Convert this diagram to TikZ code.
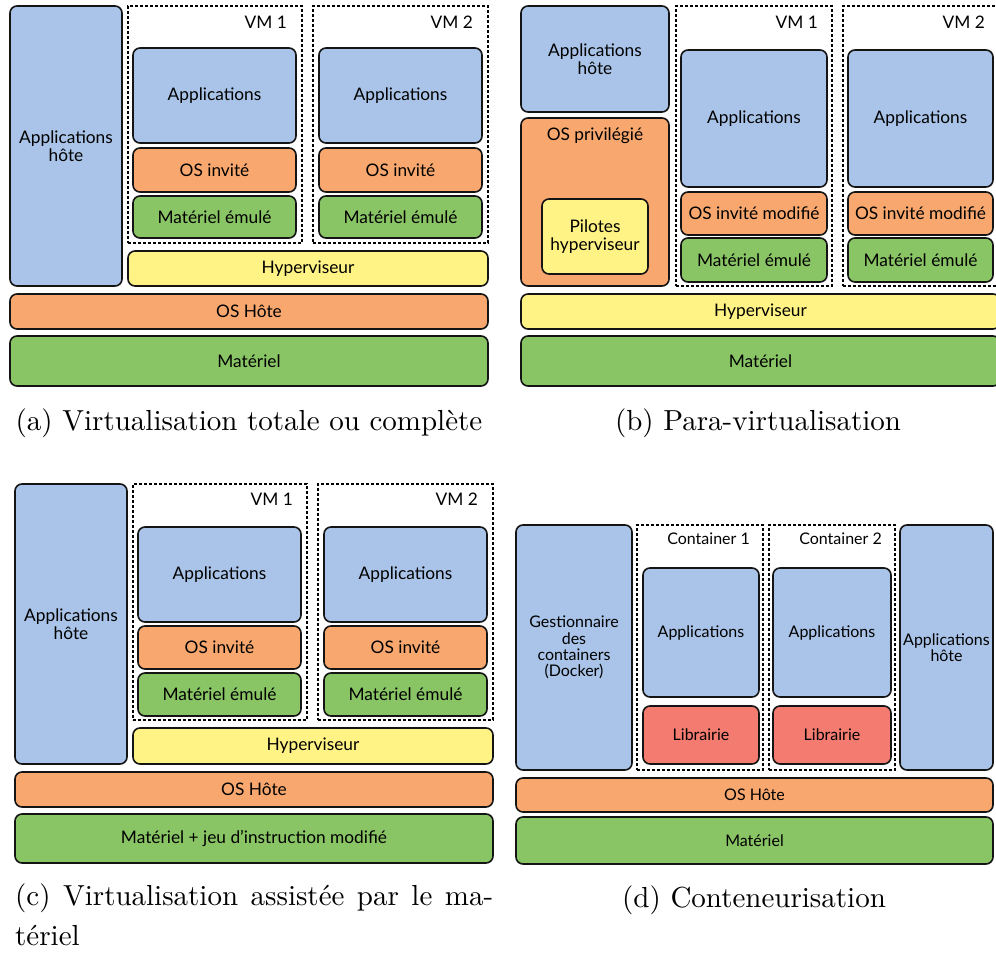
\documentclass[tikz,border=0pt]{standalone}
\usepackage{fontspec}
\newfontfamily\lato{Lato}
\newfontfamily\capfont{lmroman10-regular}[Extension=.otf]
\definecolor{blueF}{RGB}{169,196,232}
\definecolor{orangeF}{RGB}{248,168,110}
\definecolor{greenF}{RGB}{137,197,101}
\definecolor{yellowF}{RGB}{255,243,133}
\definecolor{redF}{RGB}{243,123,112}
\definecolor{edge}{RGB}{20,20,20}
\newcommand\blk[7]{%
  \node[blk,#6,minimum width={#4-#2},minimum height={#5-#3}] (#1) at ({(#2+#4)/2},{(#3+#5)/2}) {#7};}
\tikzset{
  blk/.style={draw=edge, line width=1.6pt, rounded corners=7pt, inner sep=1pt,
    align=center, font={\lato\fontsize{17.3}{17.5}\selectfont}},
  blueb/.style={fill=blueF},
  orangeb/.style={fill=orangeF},
  greenb/.style={fill=greenF},
  yellowb/.style={fill=yellowF},
  redb/.style={fill=redF},
  vmbox/.style={draw=black, line width=1.3pt, dash pattern=on 3pt off 2pt, rounded corners=0pt, fill=none},
  smalltxt/.style={font={\lato\fontsize{16}{16.3}\selectfont}},
  lbl/.style={inner sep=0pt, font={\lato\fontsize{17.3}{17}\selectfont}},
  lbls/.style={inner sep=0pt, font={\lato\fontsize{16}{16}\selectfont}},
  captxt/.style={inner sep=0pt, font={\capfont\fontsize{29}{40}\selectfont}},
}
\begin{document}
\begin{tikzpicture}[x=1pt,y=-1pt]
\clip (0,0) rectangle (996,956);
\fill[white] (0,0) rectangle (996,956);
% ---------- (a)
\blk{a-vm1}{128}{6}{302}{243}{vmbox}{}
\blk{a-vm2}{313}{6}{488}{243}{vmbox}{}
\node[lbl,anchor=east] (a-vm1l) at (287,22) {VM 1};
\node[lbl,anchor=east] (a-vm2l) at (473,22) {VM 2};
\blk{a-happ}{10}{6}{122}{286}{blueb}{Applications\\hôte}
\blk{a-app1}{133}{48}{296}{143}{blueb}{Applications}
\blk{a-os1}{133}{148}{296}{192}{orangeb}{OS invité}
\blk{a-hw1}{133}{196}{296}{238}{greenb}{Matériel émulé}
\blk{a-app2}{319}{48}{482}{143}{blueb}{Applications}
\blk{a-os2}{319}{148}{482}{192}{orangeb}{OS invité}
\blk{a-hw2}{319}{196}{482}{238}{greenb}{Matériel émulé}
\blk{a-hyp}{128}{251}{488}{286}{yellowb}{Hyperviseur}
\blk{a-os}{10}{294}{488}{329}{orangeb}{OS Hôte}
\blk{a-hw}{10}{336}{488}{386}{greenb}{Matériel}
\node[captxt,anchor=base] (capa) at (249,430) {(a) Virtualisation totale ou complète};
% ---------- (b)
\blk{b-vm1}{676}{6}{832}{286}{vmbox}{}
\blk{b-vm2}{843}{6}{999}{286}{vmbox}{}
\node[lbl,anchor=east] (b-vm1l) at (818,22) {VM 1};
\node[lbl,anchor=east] (b-vm2l) at (985,22) {VM 2};
\blk{b-happ}{521}{6}{669}{112}{blueb}{Applications\\hôte}
\blk{b-ospriv}{521}{118}{669}{286}{orangeb}{}
\node[lbl] (b-osprivl) at (595,136) {OS privilégié};
\blk{b-pil}{542}{199}{648}{274}{yellowb}{Pilotes\\hyperviseur}
\blk{b-app1}{681}{50}{827}{187}{blueb}{Applications}
\blk{b-os1}{681}{192}{827}{235}{orangeb}{OS invité modifié}
\blk{b-hw1}{681}{238}{827}{282}{greenb}{Matériel émulé}
\blk{b-app2}{848}{50}{993}{187}{blueb}{Applications}
\blk{b-os2}{848}{192}{993}{235}{orangeb}{OS invité modifié}
\blk{b-hw2}{848}{238}{993}{282}{greenb}{Matériel émulé}
\blk{b-hyp}{521}{294}{1000}{329}{yellowb}{Hyperviseur}
\blk{b-hw}{521}{336}{1000}{386}{greenb}{Matériel}
\node[captxt,anchor=base] (capb) at (758,430) {(b) Para-virtualisation};
% ---------- (c)
\blk{c-vm1}{133}{484}{307}{720}{vmbox}{}
\blk{c-vm2}{318}{484}{493}{720}{vmbox}{}
\node[lbl,anchor=east] (c-vm1l) at (293,499) {VM 1};
\node[lbl,anchor=east] (c-vm2l) at (478,499) {VM 2};
\blk{c-happ}{15}{484}{127}{764}{blueb}{Applications\\hôte}
\blk{c-app1}{138}{527}{301}{622}{blueb}{Applications}
\blk{c-os1}{138}{626}{301}{669}{orangeb}{OS invité}
\blk{c-hw1}{138}{673}{301}{716}{greenb}{Matériel émulé}
\blk{c-app2}{324}{527}{487}{622}{blueb}{Applications}
\blk{c-os2}{324}{626}{487}{669}{orangeb}{OS invité}
\blk{c-hw2}{324}{673}{487}{716}{greenb}{Matériel émulé}
\blk{c-hyp}{133}{728}{493}{764}{yellowb}{Hyperviseur}
\blk{c-os}{15}{772}{493}{807}{orangeb}{OS Hôte}
\blk{c-hw}{15}{814}{493}{863}{greenb}{Matériel + jeu d’instruction modifié}
\node[captxt,anchor=base west] (capc) at (15,905) {\makebox[478pt][s]{(c) Virtualisation assistée par le ma-}};
\node[captxt,anchor=base west] (capc2) at (15,945) {tériel};
% ---------- (d)
\blk{d-c1}{637}{525}{763}{770}{vmbox}{}
\blk{d-c2}{769}{525}{895}{770}{vmbox}{}
\node[lbls,anchor=east] (d-c1l) at (750,539) {Container 1};
\node[lbls,anchor=east] (d-c2l) at (882,539) {Container 2};
\blk{d-gest}{516}{525}{632}{770}{blueb,smalltxt}{Gestionnaire\\des\\containers\\(Docker)}
\blk{d-app1}{643}{568}{759}{697}{blueb,smalltxt}{Applications}
\blk{d-lib1}{643}{706}{759}{764}{redb,smalltxt}{Librairie}
\blk{d-app2}{773}{568}{891}{697}{blueb,smalltxt}{Applications}
\blk{d-lib2}{773}{706}{891}{764}{redb,smalltxt}{Librairie}
\blk{d-happ}{900}{525}{993}{770}{blueb,smalltxt}{Applications\\hôte}
\blk{d-os}{516}{778}{993}{812}{orangeb,smalltxt}{OS Hôte}
\blk{d-hw}{516}{817}{993}{864}{greenb,smalltxt}{Matériel}
\node[captxt,anchor=base] (capd) at (754,907) {(d) Conteneurisation};
\end{tikzpicture}
\end{document}
